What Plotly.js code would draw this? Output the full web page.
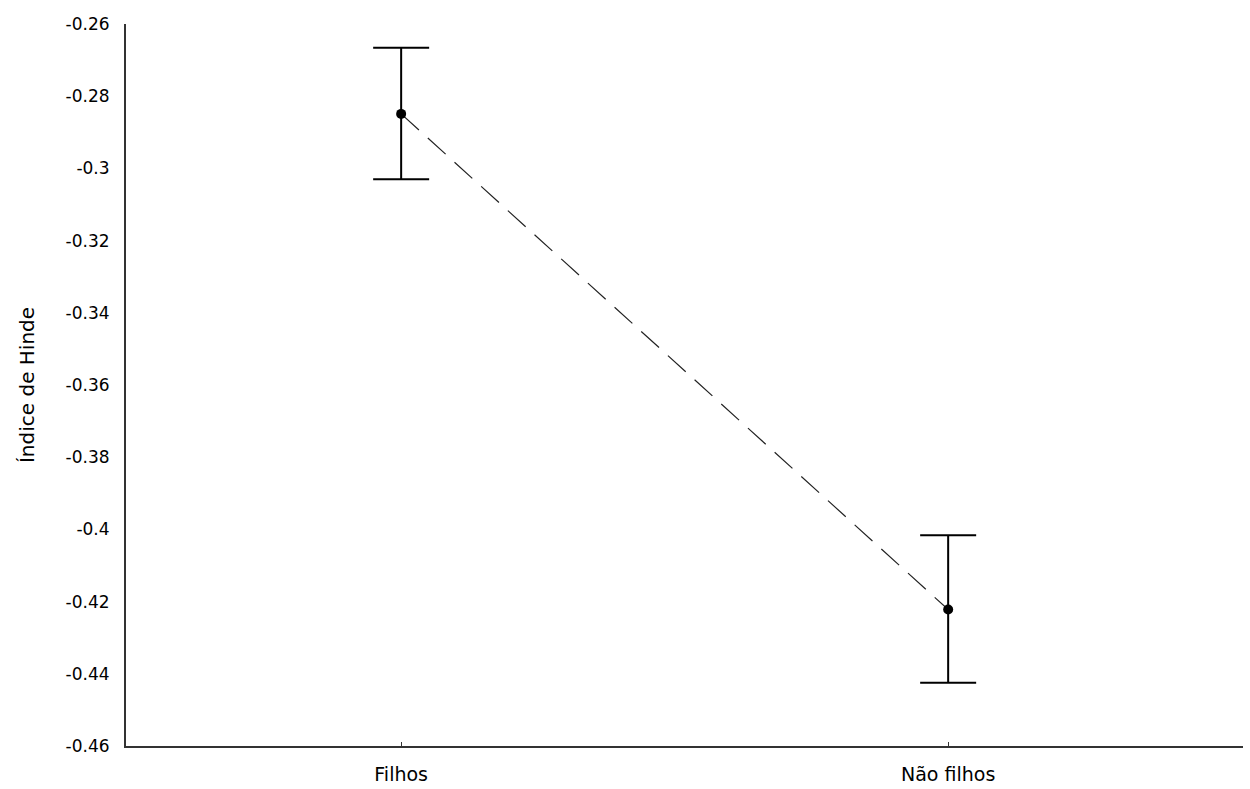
<!DOCTYPE html>
<html>
<head>
<meta charset="utf-8">
<script src="https://cdn.plot.ly/plotly-3.0.1.min.js"></script>
<style>html,body{margin:0;padding:0;background:#fff;}#chart{width:1250px;height:789px;}</style>
</head>
<body>
<div id="chart"></div>
<script>
const categories = ["Filhos", "Não filhos"];
const means = [-0.2849, -0.4222];
const errPlus = [0.0183, 0.0206];
const errMinus = [0.0181, 0.0203];
const yTickVals = [-0.46, -0.44, -0.42, -0.4, -0.38, -0.36, -0.34, -0.32, -0.3, -0.28, -0.26];
const yTickText = ["-0.46", "-0.44", "-0.42", "-0.4", "-0.38", "-0.36", "-0.34", "-0.32", "-0.3", "-0.28", "-0.26"];

const font = "DejaVu Sans, sans-serif";

const trace = {
  x: [0, 1],
  y: means,
  type: "scatter",
  mode: "lines+markers",
  line: {color: "#222222", width: 1.2, dash: "24px,12px"},
  marker: {color: "#000000", size: 10},
  error_y: {type: "data", symmetric: false, array: errPlus, arrayminus: errMinus, color: "#000000", thickness: 2, width: 28},
  hoverinfo: "skip",
  showlegend: false
};

const layout = {
  width: 1250, height: 789,
  margin: {l: 126, r: 7, t: 24, b: 43},
  paper_bgcolor: "#ffffff", plot_bgcolor: "#ffffff",
  font: {family: font, size: 17, color: "#000000"},
  xaxis: {
    range: [-0.503, 1.539],
    tickvals: [0, 1], ticktext: categories,
    showgrid: false, zeroline: false,
    showline: true, linecolor: "#333333", linewidth: 2,
    ticks: "inside", ticklen: 4, tickwidth: 1, tickcolor: "#333333",
    tickfont: {family: font, size: 19, color: "#000000"},
    ticklabelstandoff: 10
  },
  yaxis: {
    range: [-0.46, -0.26],
    tickvals: yTickVals, ticktext: yTickText,
    showgrid: false, zeroline: false,
    showline: true, linecolor: "#333333", linewidth: 2,
    ticks: "",
    tickfont: {family: font, size: 17, color: "#000000"},
    ticklabelstandoff: 11,
    title: {text: "Índice de Hinde", font: {family: font, size: 20, color: "#000000"}, standoff: 26}
  }
};

Plotly.newPlot("chart", [trace], layout, {displayModeBar: false, staticPlot: true});
</script>
</body>
</html>
